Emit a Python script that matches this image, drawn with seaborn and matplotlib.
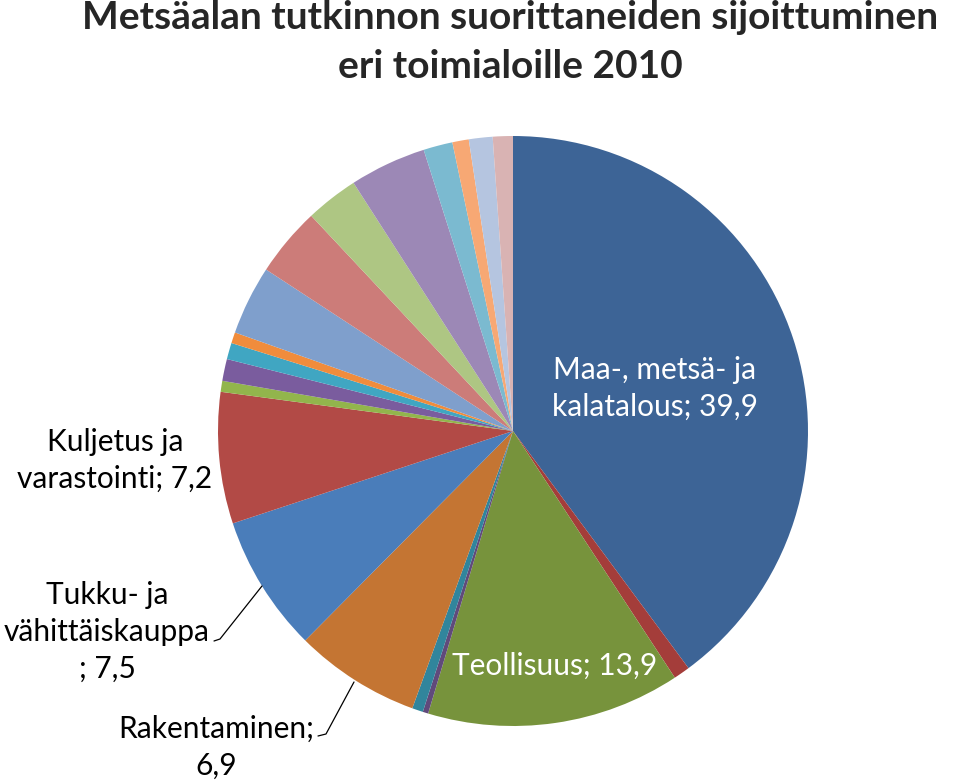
import matplotlib
matplotlib.use("Agg")
import matplotlib.pyplot as plt
import seaborn as sns

sns.set_theme(style="white")
plt.rcParams['font.family'] = ['Lato', 'DejaVu Sans']

# ---- data ----
categories = [
    "Maa-, metsä- ja kalatalous", "Kaivostoiminta", "Teollisuus", "Sähkö- ja kaasuhuolto",
    "Vesihuolto", "Rakentaminen", "Tukku- ja vähittäiskauppa", "Kuljetus ja varastointi",
    "Majoitus- ja ravitsemistoiminta", "Informaatio ja viestintä", "Rahoitus", "Kiinteistöala",
    "Ammatillinen toiminta", "Hallinto- ja tukipalvelut", "Julkinen hallinto", "Koulutus",
    "Terveys- ja sosiaalipalvelut", "Taiteet ja virkistys", "Muu palvelutoiminta", "Tuntematon",
]
values = [39.9, 0.9, 13.9, 0.3, 0.6, 6.9, 7.5, 7.2, 0.6, 1.2,
          0.9, 0.6, 3.8, 3.8, 2.9, 4.2, 1.6, 0.9, 1.3, 1.1]
label_texts = {
    0: "Maa-, metsä- ja\nkalatalous; 39,9",
    2: "Teollisuus; 13,9",
    5: "Rakentaminen;\n6,9",
    6: "Tukku- ja\nvähittäiskauppa\n; 7,5",
    7: "Kuljetus ja\nvarastointi; 7,2",
}
colors = ["#3D6496", "#A43D3A", "#77933C", "#604A7B", "#31859C", "#C47533",
          "#4A7DBA", "#B24A46", "#92B54C", "#7A5C9E", "#40A6C2", "#F08C3C",
          "#7F9FCC", "#CC7C79", "#AEC683", "#9C88B6", "#7BBAD0", "#F7A874",
          "#B5C5E0", "#D9B3B3"]
title = "Metsäalan tutkinnon suorittaneiden sijoittuminen\neri toimialoille 2010"

W, H = 960, 784
fig = plt.figure(figsize=(W / 100, H / 100), dpi=100)
cx, cy, R = 513, 431, 295
ax = fig.add_axes([(cx - R) / W, (H - cy - R) / H, 2 * R / W, 2 * R / H])
ax.pie(values, colors=colors, startangle=90, counterclock=False, radius=1,
       wedgeprops=dict(linewidth=0))
ax.set_xlim(-1, 1)
ax.set_ylim(-1, 1)
ax.set_aspect("equal")
ax.axis("off")


def p2d(px, py):
    return ((px - cx) / R, (cy - py) / R)


fs = 21.5
ls = 1.38
# inside labels
ax.text(*p2d(655, 388), label_texts[0], color="white", fontsize=fs,
        ha="center", va="center", linespacing=ls)
ax.text(*p2d(555, 666), label_texts[2], color="white", fontsize=fs,
        ha="center", va="center")
# outside labels
ax.text(*p2d(115, 460), label_texts[7], color="black", fontsize=fs,
        ha="center", va="center", linespacing=ls, clip_on=False)
ax.text(*p2d(107, 632), label_texts[6], color="black", fontsize=fs,
        ha="center", va="center", linespacing=ls, clip_on=False)
ax.text(*p2d(216, 747), label_texts[5], color="black", fontsize=fs,
        ha="center", va="center", linespacing=ls, clip_on=False)

# leader lines
for pts in ([(214, 641), (220, 639), (262, 586)],
            [(318, 736), (326, 734), (354, 682)]):
    xs, ys = zip(*[p2d(*p) for p in pts])
    ax.plot(xs, ys, color="black", lw=0.9, clip_on=False)

fig.text(510 / W, 1 - 0 / H, title, ha="center", va="top", fontsize=28,
         fontweight="bold", linespacing=1.5)

fig.savefig("out.png", dpi=100, facecolor="white")
